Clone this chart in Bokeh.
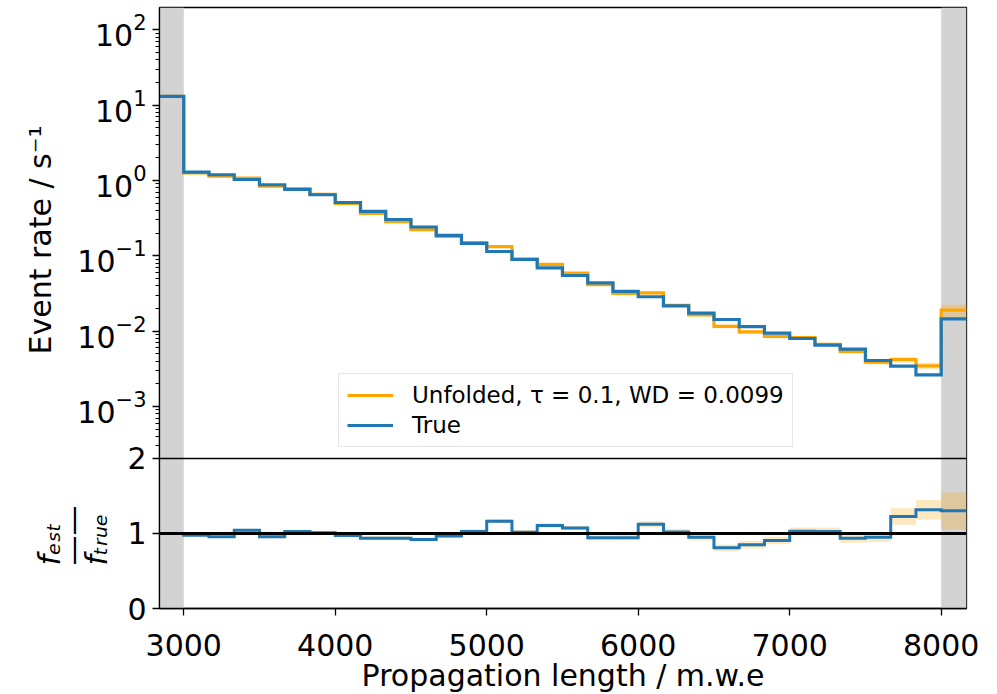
from bokeh.plotting import figure
from bokeh.models import (Range1d, LinearScale, FixedTicker, LogTickFormatter,
                          BoxAnnotation, Span, Title)
from bokeh.embed import file_html
from bokeh.resources import INLINE

# ---------------- data ----------------
bin_edges = [2840, 3000, 3166.7, 3333.3, 3500, 3666.7, 3833.3, 4000, 4166.7, 4333.3,
             4500, 4666.7, 4833.3, 5000, 5166.7, 5333.3, 5500, 5666.7, 5833.3, 6000,
             6166.7, 6333.3, 6500, 6666.7, 6833.3, 7000, 7166.7, 7333.3, 7500, 7666.7,
             7833.3, 8000, 8167]

true_rate = [13.05, 1.29, 1.19, 1.03, 0.877, 0.759, 0.646, 0.510, 0.388, 0.303,
             0.241, 0.187, 0.146, 0.114, 0.0893, 0.0693, 0.0547, 0.0438, 0.0336, 0.0286,
             0.0216, 0.0173, 0.01426, 0.0115, 0.00938, 0.00798, 0.0065, 0.00575, 0.00407,
             0.00342, 0.00263, 0.01457]

unfolded_rate = [13.05, 1.260, 1.138, 1.075, 0.838, 0.779, 0.652, 0.496, 0.364, 0.284,
                 0.222, 0.181, 0.150, 0.1327, 0.0909, 0.0767, 0.0588, 0.0413, 0.0317, 0.0321,
                 0.0220, 0.01645, 0.01154, 0.00976, 0.00851, 0.00823, 0.00668, 0.00539,
                 0.00387, 0.00420, 0.00346, 0.01897]

ratio_err = [0.01, 0.015, 0.015, 0.02, 0.02, 0.02, 0.02, 0.02, 0.025, 0.025,
             0.025, 0.025, 0.03, 0.03, 0.03, 0.03, 0.03, 0.035, 0.035, 0.04,
             0.04, 0.045, 0.045, 0.05, 0.05, 0.05, 0.05, 0.06, 0.065, 0.11,
             0.13, 0.245]

legend_labels = ["Unfolded, \u03c4 = 0.1, WD = 0.0099", "True"]
x_ticks = [3000, 4000, 5000, 6000, 7000, 8000]
rate_ticks = [1e-3, 1e-2, 1e-1, 1e0, 1e1, 1e2]
ratio_ticks = [0, 1, 2]
ratio_tick_labels = ["0", "1", "2"]

x_label = "Propagation length / m.w.e"
y_label = "Event rate / s\u207b\u00b9"
ratio_label = "f\u2091\u209b\u209c\n\u2014\u2014\nf\u209c\u1d63\u1d64\u2091"

ratio = [u / t for u, t in zip(unfolded_rate, true_rate)]

# ---------------- layout constants ----------------
LOG_TOP = 2.2961        # log10(rate) at the top of the frame
LOG_BREAK = -3.6906     # border between the rate panel and the ratio panel
LOG_BOTTOM = -5.6826    # log10 at the bottom of the frame
RATIO_TOP = 8.013       # ratio value at the top of the frame (ratio panel shows 0..2)

BLUE = "#1f77b4"
ORANGE = "#ffa500"
FONT = "DejaVu Sans"

p = figure(width=997, height=694,
           x_range=Range1d(bin_edges[0], bin_edges[-1]),
           y_range=Range1d(10 ** LOG_BOTTOM, 10 ** LOG_TOP),
           y_axis_type="log",
           output_backend="svg", toolbar_location=None,
           min_border_left=159, min_border_right=31,
           min_border_top=7, min_border_bottom=86)
p.extra_y_ranges = {"ratio": Range1d(0, RATIO_TOP)}
p.extra_y_scales = {"ratio": LinearScale()}

p.xgrid.visible = False
p.ygrid.visible = False
p.outline_line_color = "black"
p.outline_line_width = 1.3
p.outline_line_alpha = 1.0
p.background_fill_color = "white"
p.border_fill_color = "white"

# grey under/overflow regions
for lo, hi in [(bin_edges[0], bin_edges[1]), (bin_edges[-2], bin_edges[-1])]:
    p.add_layout(BoxAnnotation(left=lo, right=hi, fill_color="#d3d3d3", fill_alpha=1.0,
                               line_color=None, level="underlay"))

lefts = bin_edges[:-1]
rights = bin_edges[1:]

# rate panel: uncertainty band of the unfolded result
p.quad(left=lefts, right=rights,
       bottom=[u - t * e for u, t, e in zip(unfolded_rate, true_rate, ratio_err)],
       top=[u + t * e for u, t, e in zip(unfolded_rate, true_rate, ratio_err)],
       fill_color=ORANGE, fill_alpha=0.25, line_color=None)

p.step(x=bin_edges, y=unfolded_rate + [unfolded_rate[-1]], mode="after",
       line_color=ORANGE, line_width=3.2, line_join="miter", legend_label=legend_labels[0])
p.step(x=bin_edges, y=true_rate + [true_rate[-1]], mode="after",
       line_color=BLUE, line_width=3.2, line_join="miter", legend_label=legend_labels[1])

# ratio panel
p.quad(left=lefts, right=rights,
       bottom=[r - e for r, e in zip(ratio, ratio_err)],
       top=[r + e for r, e in zip(ratio, ratio_err)],
       fill_color=ORANGE, fill_alpha=0.25, line_color=None, y_range_name="ratio")
p.step(x=bin_edges, y=ratio + [ratio[-1]], mode="after", y_range_name="ratio",
       line_color=BLUE, line_width=3, line_join="miter")

p.add_layout(Span(location=ratio_ticks[1], dimension="width", y_range_name="ratio",
                  line_color="black", line_width=3))
p.add_layout(Span(location=ratio_ticks[2], dimension="width", y_range_name="ratio",
                  line_color="black", line_width=1.3))

# ---------------- axes ----------------
log_axis = p.left[0]
minor = [m * 10.0 ** k for k in range(-4, 2) for m in range(2, 10)
         if 10 ** LOG_BREAK < m * 10.0 ** k < 10 ** LOG_TOP]
# ratio ticks expressed on the shared (log) vertical axis of the frame
ratio_pos = [10 ** (LOG_BOTTOM + r * (LOG_TOP - LOG_BOTTOM) / RATIO_TOP) for r in ratio_ticks]
log_axis.ticker = FixedTicker(ticks=ratio_pos + rate_ticks, minor_ticks=minor)
log_axis.formatter = LogTickFormatter()
log_axis.major_label_overrides = {pos: lab for pos, lab in zip(ratio_pos, ratio_tick_labels)}

xaxis = p.below[0]
xaxis.ticker = FixedTicker(ticks=x_ticks, minor_ticks=[])

for ax in [log_axis, xaxis]:
    ax.major_label_text_font = FONT
    ax.major_label_text_font_size = "30px"
    ax.major_label_text_color = "black"
    ax.axis_line_color = "black"
    ax.axis_line_width = 1.3
    ax.major_tick_line_color = "black"
    ax.major_tick_line_width = 1.3
    ax.major_tick_out = 7
    ax.major_tick_in = 0
    ax.minor_tick_line_color = "black"
    ax.minor_tick_line_width = 1
    ax.minor_tick_out = 4
    ax.minor_tick_in = 0

log_axis.major_label_standoff = 6
xaxis.major_label_standoff = 18

# ---------------- axis titles (side titles) ----------------
# x label, placed in the panel below the x axis
x_title = Title(text=x_label, align="center", vertical_align="bottom", standoff=-6,
                text_font=FONT, text_font_size="30px", text_font_style="normal",
                text_color="black")
p.add_layout(x_title, "below")

# ratio panel label  f_est / f_true  (stacked right next to the tick labels)
ratio_title = Title(text=ratio_label, align="left", offset=43, vertical_align="middle",
                    standoff=-82, text_font=FONT, text_font_size="30px",
                    text_font_style="italic", text_color="black", text_line_height=0.68)
p.add_layout(ratio_title, "left")
# rate panel label
rate_title = Title(text=y_label, align="left", offset=254, vertical_align="middle",
                   standoff=25, text_font=FONT, text_font_size="30px",
                   text_font_style="normal", text_color="black")
p.add_layout(rate_title, "left")

# ---------------- legend ----------------
leg = p.legend[0]
leg.location = (179, 161)
leg.label_text_font = FONT
leg.label_text_font_size = "23px"
leg.label_text_color = "black"
leg.glyph_width = 46
leg.glyph_height = 26
leg.label_standoff = 19
leg.padding = 8
leg.spacing = 4
leg.margin = 0
leg.border_line_color = "#cccccc"
leg.border_line_width = 1.5
leg.background_fill_alpha = 0.8

open("out.html", "w").write(file_html(p, INLINE))
